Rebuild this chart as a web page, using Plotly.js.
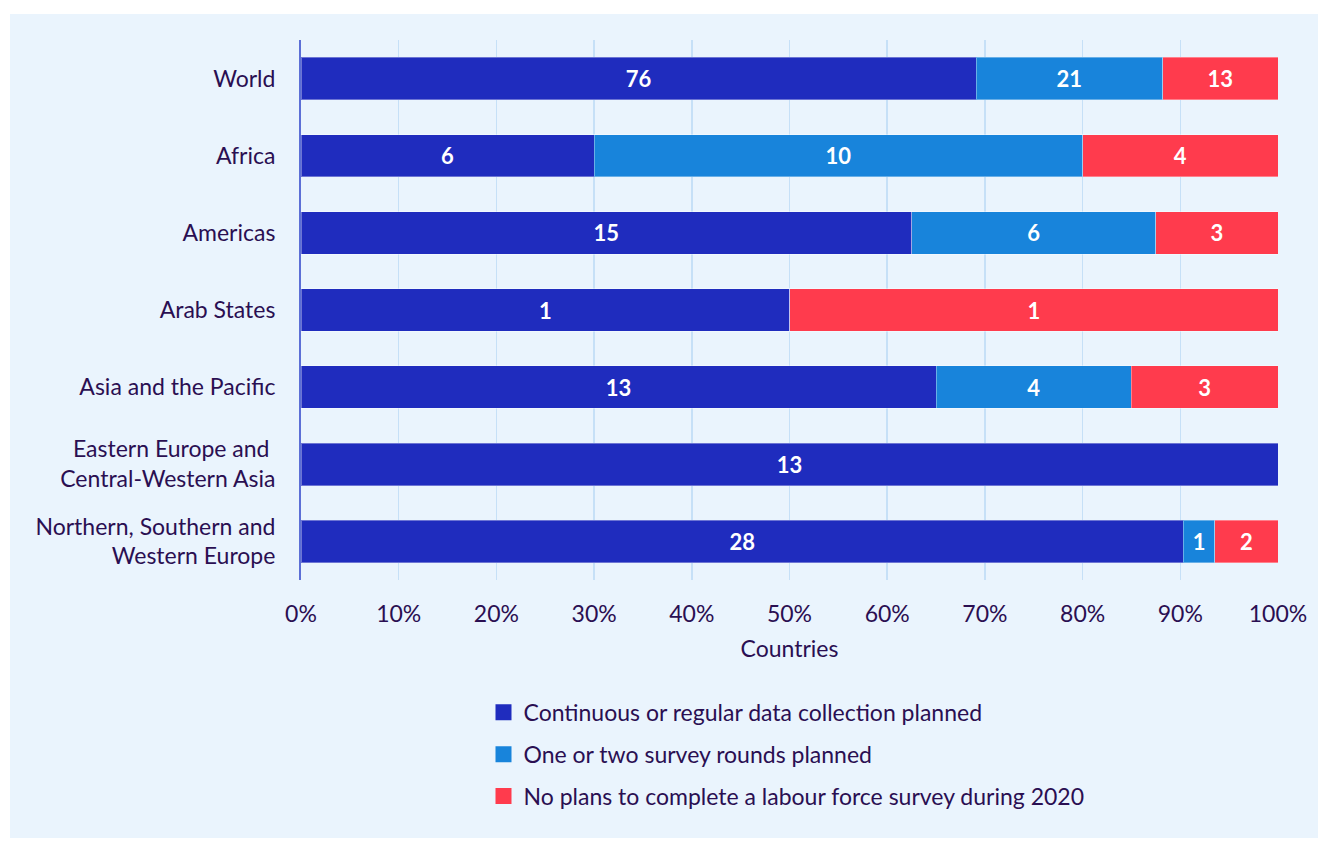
<!DOCTYPE html>
<html>
<head>
<meta charset="utf-8">
<script src="https://cdn.plot.ly/plotly-3.0.1.min.js"></script>
<style>
html,body{margin:0;padding:0;background:#ffffff;width:1324px;height:843px;overflow:hidden;}
#chart{position:absolute;left:10px;top:14px;width:1308px;height:824px;}
</style>
</head>
<body>
<div id="chart"></div>
<script>
var regions = ["World", "Africa", "Americas", "Arab States", "Asia and the Pacific", "Eastern Europe and <br>Central-Western Asia", "Northern, Southern and<br>Western Europe"];
var continuousPlanned = [76, 6, 15, 1, 13, 13, 28];
var oneOrTwoRounds = [21, 10, 6, 0, 4, 0, 1];
var noPlans = [13, 4, 3, 1, 3, 0, 2];
var seriesNames = ["Continuous or regular data collection planned", "One or two survey rounds planned", "No plans to complete a labour force survey during 2020"];
var xTicks = [0,10,20,30,40,50,60,70,80,90,100];

var colors = ["#1f2cbe", "#1884db", "#ff3b4d"];
var fontFamily = "Lato, 'Open Sans', sans-serif";
var textColor = "#2a0f52";
var fs = 23;
var series = [continuousPlanned, oneOrTwoRounds, noPlans];

var traces = [];
series.forEach(function(vals, i){
  traces.push({
    type: "bar", orientation: "h",
    y: regions, x: vals,
    name: seriesNames[i],
    showlegend: false,
    marker: {color: colors[i], line: {color: "rgba(255,255,255,0.35)", width: 1}},
    text: vals.map(function(v){ return v ? String(v) : ""; }),
    textposition: "inside", insidetextanchor: "middle", textangle: 0,
    constraintext: "none",
    textfont: {family: fontFamily, size: 22, color: "#ffffff", weight: "bold"},
    hoverinfo: "x+y+name"
  });
});
series.forEach(function(vals, i){
  traces.push({
    type: "scatter", mode: "markers",
    x: [null], y: [null],
    name: seriesNames[i],
    legendgroup: "g" + i,
    marker: {symbol: "square", size: 17, color: colors[i]},
    showlegend: true, hoverinfo: "skip"
  });
});

var layout = {
  width: 1308, height: 824,
  paper_bgcolor: "#eaf4fd", plot_bgcolor: "#eaf4fd",
  margin: {l: 291, r: 40, t: 26, b: 258, autoexpand: false},
  barmode: "stack", barnorm: "percent", bargap: 0.45,
  font: {family: fontFamily, size: fs, color: textColor},
  xaxis: {
    range: [0, 100], tickvals: xTicks, ticktext: xTicks.map(function(t){return t + "%";}),
    showgrid: true, gridcolor: "#c6e0f7", gridwidth: 1.5,
    zeroline: false, showline: false, ticks: "", ticklabelstandoff: 18, tickangle: 0,
    tickfont: {family: fontFamily, size: fs, color: textColor},
    title: {text: "Countries", font: {family: fontFamily, size: fs, color: textColor}, standoff: 14},
    automargin: false, fixedrange: true
  },
  yaxis: {
    categoryorder: "array", categoryarray: regions, autorange: "reversed",
    showline: true, linecolor: "#5c6fd6", linewidth: 2,
    showgrid: false, zeroline: false, ticks: "", ticklabelstandoff: 19,
    tickfont: {family: fontFamily, size: fs, color: textColor},
    automargin: false, fixedrange: true
  },
  showlegend: true,
  legend: {
    xref: "container", yref: "container",
    x: 0.362, y: 0.1786, xanchor: "left", yanchor: "top",
    orientation: "v", traceorder: "grouped", tracegroupgap: 9,
    bgcolor: "rgba(0,0,0,0)",
    font: {family: fontFamily, size: fs, color: textColor}
  }
};

Plotly.newPlot("chart", traces, layout, {displayModeBar: false, staticPlot: true});
</script>
</body>
</html>
